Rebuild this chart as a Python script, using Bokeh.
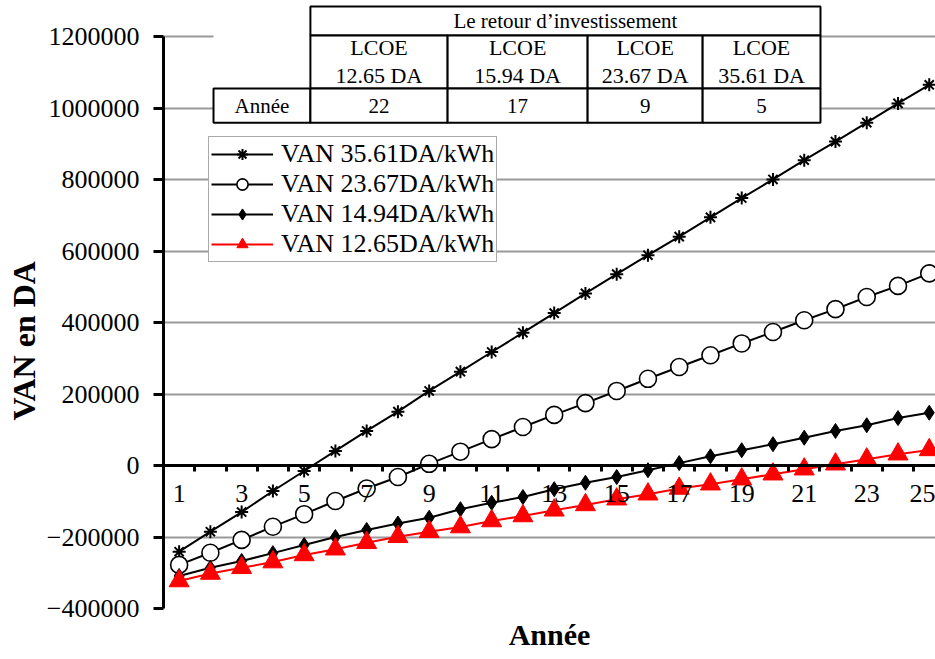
from bokeh.plotting import figure
from bokeh.models import (Range1d, FixedTicker, Legend, LegendItem, Title,
                          ColumnDataSource, BasicTickFormatter)
from bokeh.core.properties import value
from bokeh.embed import file_html
from bokeh.resources import INLINE

# ---------------- data ----------------
years = list(range(1, 26))

van_3561 = [-241000, -185000, -130000, -71000, -15000, 41000, 97000, 151000, 209000,
            263000, 318000, 372000, 427000, 482000, 536000, 589000, 641000, 695000,
            749000, 801000, 855000, 907000, 960000, 1014000, 1066000]
van_2367 = [-278000, -244000, -208000, -171000, -136000, -99000, -64000, -32000, 5000,
            39000, 74000, 108000, 142000, 175000, 209000, 243000, 276000, 309000,
            342000, 374000, 407000, 438000, 472000, 503000, 538000]
van_1494 = [-309000, -286000, -267000, -245000, -222000, -200000, -180000, -162000,
            -146000, -122000, -104000, -88000, -66000, -48000, -32000, -13000, 7000,
            26000, 43000, 60000, 78000, 97000, 113000, 133000, 148000]
van_1265 = [-323000, -302000, -286000, -270000, -250000, -234000, -216000, -199000,
            -185000, -172000, -155000, -141000, -125000, -110000, -94000, -80000,
            -64000, -52000, -38000, -24000, -10000, 4000, 18000, 32000, 44000]

series_labels = ["VAN 35.61DA/kWh", "VAN 23.67DA/kWh", "VAN 14.94DA/kWh", "VAN 12.65DA/kWh"]

y_ticks = [-400000, -200000, 0, 200000, 400000, 600000, 800000, 1000000, 1200000]
x_tick_labels = years[::2]

table_title = "Le retour d’investissement"
table_lcoe = ["LCOE\n12.65 DA", "LCOE\n15.94 DA", "LCOE\n23.67 DA", "LCOE\n35.61 DA"]
table_row_label = "Année"
table_years = ["22", "17", "9", "5"]

# ---------------- figure ----------------
FONT = "Liberation Serif"

p = figure(width=935, height=659, output_backend="svg", toolbar_location=None,
           x_range=Range1d(0.5, 25.2), y_range=Range1d(-400000, 1302000),
           min_border_left=163, min_border_right=0, min_border_top=0,
           min_border_bottom=51)
p.outline_line_color = None
p.background_fill_color = "white"
p.border_fill_color = "white"

p.xgrid.visible = False
p.ygrid.grid_line_color = "#9a9a9a"
p.ygrid.grid_line_width = 2

# y axis
p.yaxis.ticker = FixedTicker(ticks=y_ticks)
p.yaxis.formatter = BasicTickFormatter(use_scientific=False)
p.yaxis.bounds = (y_ticks[0], y_ticks[-1])
p.yaxis.axis_line_width = 3
p.yaxis.major_tick_line_width = 3
p.yaxis.major_tick_out = 10
p.yaxis.major_tick_in = 0
p.yaxis.minor_tick_line_color = None
p.yaxis.major_label_text_font = FONT
p.yaxis.major_label_text_font_size = "26px"
p.yaxis.major_label_text_color = "black"
p.yaxis.major_label_standoff = 14

# x axis at zero
p.xaxis.fixed_location = 0
p.xaxis.ticker = FixedTicker(ticks=x_tick_labels,
                             minor_ticks=[y + 0.5 for y in years[:-1]])
p.xaxis.axis_line_width = 3
p.xaxis.major_tick_line_color = None
p.xaxis.major_tick_out = 6
p.xaxis.major_tick_in = 0
p.xaxis.minor_tick_line_color = "black"
p.xaxis.minor_tick_line_width = 3
p.xaxis.minor_tick_out = 6
p.xaxis.minor_tick_in = 0
p.xaxis.major_label_text_font = FONT
p.xaxis.major_label_text_font_size = "26px"
p.xaxis.major_label_text_color = "black"
p.xaxis.major_label_standoff = 13

# ---------------- series ----------------
src = ColumnDataSource(dict(x=years, a=van_3561, b=van_2367, c=van_1494, d=van_1265))

l1 = p.line("x", "a", source=src, line_color="black", line_width=2)
m1 = p.scatter("x", "a", source=src, marker="asterisk", size=13, line_color="black",
               line_width=2)
l2 = p.line("x", "b", source=src, line_color="black", line_width=2)
m2 = p.scatter("x", "b", source=src, marker="circle", size=17, fill_color="white",
               line_color="black", line_width=1.6)
l3 = p.line("x", "c", source=src, line_color="black", line_width=2)
m3 = p.scatter("x", "c", source=src, marker="diamond", size=15, fill_color="black",
               line_color="black")
l4 = p.line("x", "d", source=src, line_color="red", line_width=2)
m4 = p.scatter("x", "d", source=src, marker="triangle", size=20, fill_color="red",
               line_color="red")

# ---------------- table ----------------
tab_x = [2.1, 5.2, 9.59, 14.07, 17.75, 21.52]
tab_y = [1285000, 1204000, 1056000, 960000]

p.quad(left=[tab_x[0]], right=[tab_x[-1]], top=[tab_y[0]], bottom=[tab_y[-1]],
       fill_color="white", line_color=None)
p.quad(left=[tab_x[1]], right=[tab_x[-1]], top=[tab_y[0]], bottom=[tab_y[1]],
       fill_color="white", line_color="black", line_width=2)
p.quad(left=tab_x[1:-1], right=tab_x[2:], top=[tab_y[1]] * 4, bottom=[tab_y[2]] * 4,
       fill_color="white", line_color="black", line_width=2)
p.quad(left=tab_x[:-1], right=tab_x[1:], top=[tab_y[2]] * 5, bottom=[tab_y[3]] * 5,
       fill_color="white", line_color="black", line_width=2)

mid = lambda a, b: (a + b) / 2
p.text(x=[mid(tab_x[1], tab_x[-1])], y=[mid(tab_y[0], tab_y[1])], text=[table_title],
       text_font=value(FONT), text_font_size="21px", text_align="center",
       text_baseline="middle", text_color="black")
p.text(x=[mid(tab_x[i], tab_x[i + 1]) for i in range(1, 5)],
       y=[mid(tab_y[1], tab_y[2])] * 4, text=table_lcoe,
       text_font=value(FONT), text_font_size="22px", text_align="center",
       text_baseline="middle", text_color="black", text_line_height=1.12)
p.text(x=[mid(tab_x[i], tab_x[i + 1]) for i in range(0, 5)],
       y=[mid(tab_y[2], tab_y[3])] * 5, text=[table_row_label] + table_years,
       text_font=value(FONT), text_font_size="21px", text_align="center",
       text_baseline="middle", text_color="black")

# ---------------- legend ----------------
legend = Legend(items=[LegendItem(label=series_labels[0], renderers=[l1, m1]),
                       LegendItem(label=series_labels[1], renderers=[l2, m2]),
                       LegendItem(label=series_labels[2], renderers=[l3, m3]),
                       LegendItem(label=series_labels[3], renderers=[l4, m4])],
                location=(45, 346), orientation="vertical")
legend.label_text_font = FONT
legend.label_text_font_size = "26px"
legend.label_text_color = "black"
legend.label_height = 28
legend.glyph_height = 28
legend.glyph_width = 62
legend.spacing = 0
legend.padding = 2
legend.margin = 0
legend.label_standoff = 8
legend.border_line_color = "#555555"
legend.border_line_width = 1
legend.background_fill_color = "white"
legend.background_fill_alpha = 1
p.add_layout(legend)

# ---------------- axis titles ----------------
p.add_layout(Title(text="VAN en DA", align="left", offset=188, text_font=FONT,
                   text_font_size="32px", text_font_style="bold",
                   text_color="black", standoff=3), "left")
p.add_layout(Title(text="Année", align="center", text_font=FONT,
                   text_font_size="30px", text_font_style="bold",
                   text_color="black", standoff=15), "below")

open("out.html", "w").write(file_html(p, INLINE))
